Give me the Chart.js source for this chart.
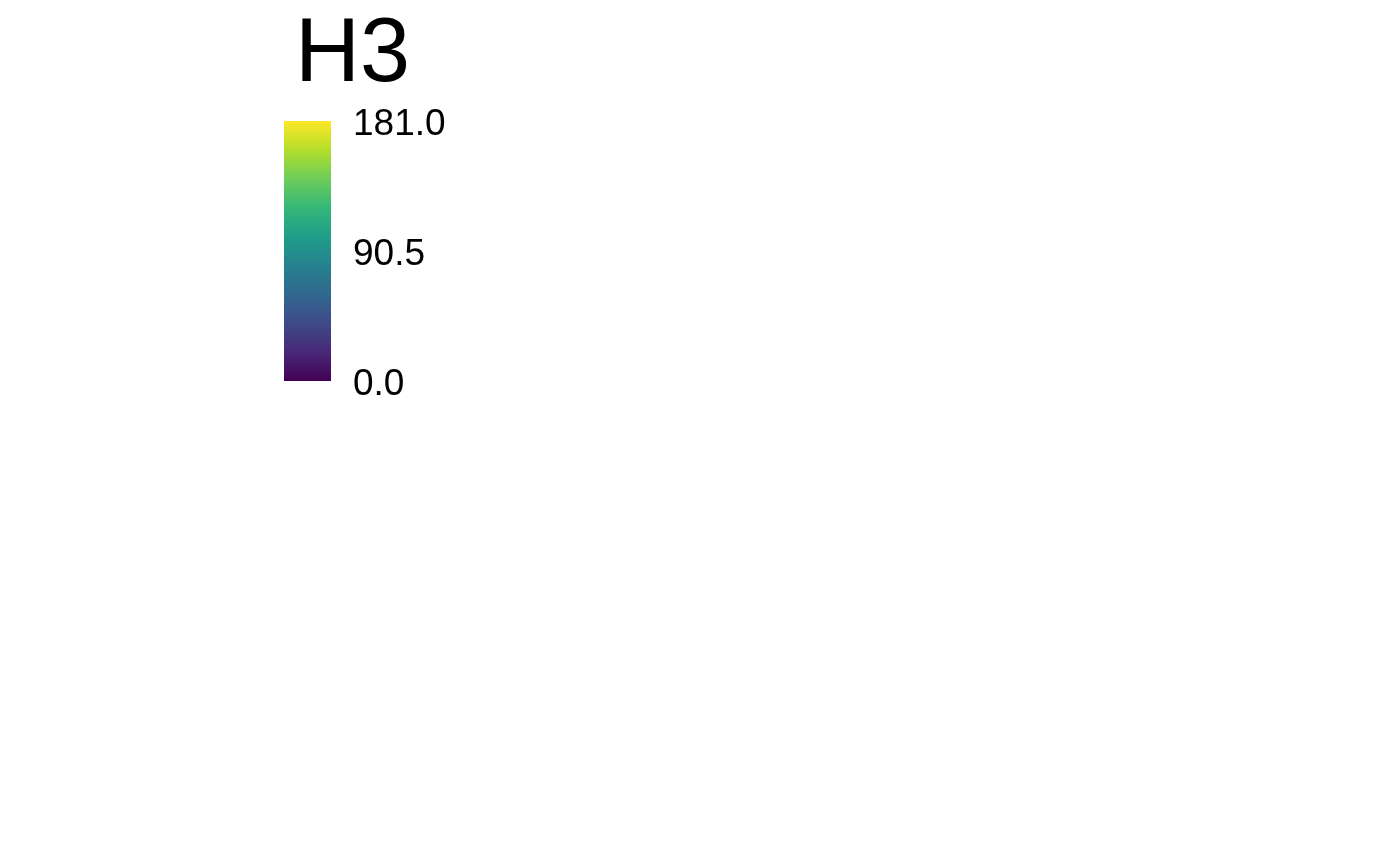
<!DOCTYPE html>
<html>
<head>
<meta charset="utf-8">
<script src="https://cdn.jsdelivr.net/npm/chart.js@4/dist/chart.umd.min.js"></script>
<style>
  html, body { margin: 0; padding: 0; background: #ffffff; }
  #wrap { position: relative; width: 1400px; height: 866px; overflow: hidden; }
  #chartBox { position: absolute; left: 0; top: 0; width: 1400px; height: 866px; }
  #title { position: absolute; left: 295px; top: 5px; font-family: "Liberation Sans", Arial, sans-serif;
           font-size: 90px; line-height: 90px; color: #000000; white-space: nowrap; }
</style>
</head>
<body>
<div id="wrap">
  <div id="title"></div>
  <div id="chartBox"><canvas id="c" width="1400" height="866" style="width:1400px;height:866px"></canvas></div>
</div>
<script>
// ---- data ----
const legendTitle = "H3";
const categories = ["H3"];
const rangeMin = 0.0;
const rangeMax = 181.0;
const tickValues = [0.0, 90.5, 181.0];
const tickLabels = ["0.0", "90.5", "181.0"];
const viridisStops = ["#440154", "#482878", "#3E4A89", "#31688E", "#26828E",
                      "#1F9E89", "#35B779", "#6DCD59", "#B4DE2C", "#FDE725"];

document.getElementById("title").textContent = legendTitle;

function gradientFill(context) {
  const chart = context.chart;
  const area = chart.chartArea;
  if (!area) return viridisStops[0];
  const g = chart.ctx.createLinearGradient(0, area.bottom, 0, area.top);
  viridisStops.forEach((c, i) => g.addColorStop(i / (viridisStops.length - 1), c));
  return g;
}

new Chart(document.getElementById("c"), {
  type: "bar",
  data: {
    labels: categories,
    datasets: [{
      data: [[rangeMin, rangeMax]],
      backgroundColor: gradientFill,
      borderWidth: 0,
      barPercentage: 1.0,
      categoryPercentage: 1.0
    }]
  },
  options: {
    responsive: false,
    maintainAspectRatio: false,
    devicePixelRatio: 1,
    animation: false,
    layout: { padding: { left: 284, top: 121, bottom: 485, right: 919 } },
    plugins: { legend: { display: false }, tooltip: { enabled: false }, title: { display: false } },
    scales: {
      x: { display: false },
      y: {
        position: "right",
        min: rangeMin,
        max: rangeMax,
        grid: { display: false, drawTicks: false },
        border: { display: false },
        afterBuildTicks: (scale) => { scale.ticks = tickValues.map(v => ({ value: v })); },
        afterFit: (scale) => { scale.width = 150; },
        ticks: {
          padding: 22,
          labelOffset: 4,
          color: "#000000",
          autoSkip: false,
          font: { family: "'Liberation Sans', Arial, sans-serif", size: 37 },
          callback: (value) => {
            const i = tickValues.indexOf(value);
            return i >= 0 ? tickLabels[i] : Number(value).toFixed(1);
          }
        }
      }
    }
  }
});
</script>
</body>
</html>
